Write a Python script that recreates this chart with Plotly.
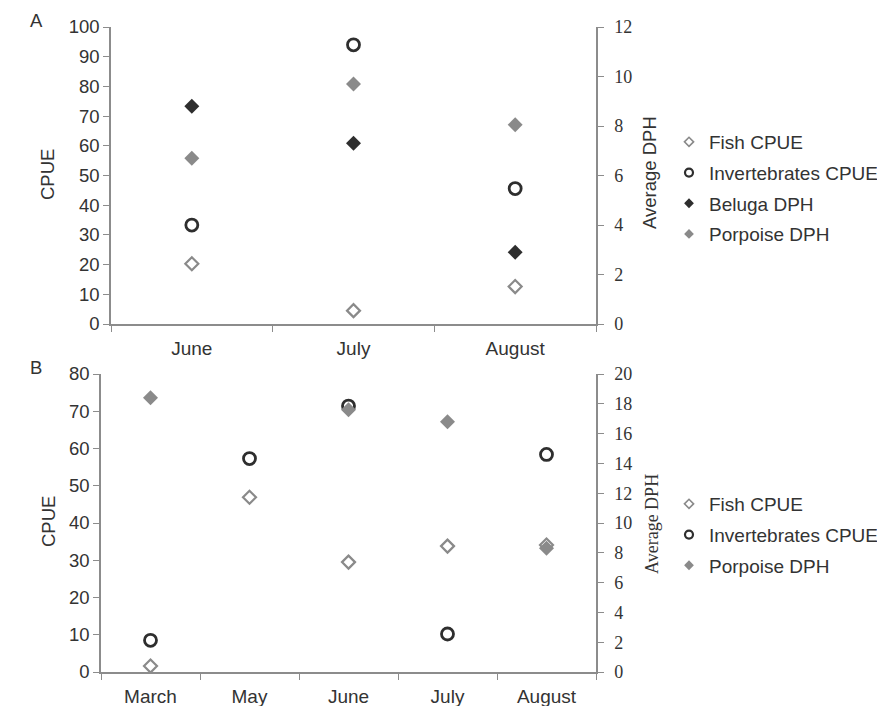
import plotly.graph_objects as go

# Visible window 885x706; page body has an 8px margin, so figure is drawn offset by 8px
OFF = 8
W, H = 885 - OFF, 706 - OFF

# Panel A data
months_a = ["June", "July", "August"]
fish_a = [20.3, 4.5, 12.6]
invert_a = [33.3, 94.0, 45.6]
beluga_a = [8.8, 7.3, 2.9]
porpoise_a = [6.7, 9.7, 8.05]

# Panel B data
months_b = ["March", "May", "June", "July", "August"]
fish_b = [1.6, 46.9, 29.5, 33.8, 34.1]
invert_b = [8.5, 57.3, 71.4, 10.2, 58.4]
porpoise_b = [18.4, None, 17.6, 16.8, 8.3]

cpue_ticks_a = [0, 10, 20, 30, 40, 50, 60, 70, 80, 90, 100]
dph_ticks_a = [0, 2, 4, 6, 8, 10, 12]
cpue_ticks_b = [0, 10, 20, 30, 40, 50, 60, 70, 80]
dph_ticks_b = [0, 2, 4, 6, 8, 10, 12, 14, 16, 18, 20]

SANS = "Liberation Sans, Arial, sans-serif"
SERIF = "Liberation Serif, Times New Roman, serif"
TXT = "#333333"
AX = "#8c8c8c"
GRAY = "#8a8a8a"
DARK = "#2e2e2e"
FS = 18.5
FSL = 19
FSS = 18

def px_x(p):
    return (p - OFF) / W

def px_y(p):
    return 1 - (p - OFF) / H

fig = go.Figure()

def mk(kind, big=True):
    if kind == "fish":
        return dict(symbol="diamond-open", size=10 if big else 7, color=GRAY,
                    line=dict(width=2.2 if big else 1.6, color=GRAY))
    if kind == "inv":
        return dict(symbol="circle-open", size=12 if big else 8, color=DARK,
                    line=dict(width=2.8 if big else 2.2, color=DARK))
    if kind == "bel":
        return dict(symbol="diamond", size=11.5 if big else 7.5, color=DARK, line=dict(width=0))
    return dict(symbol="diamond", size=11.5 if big else 7.5, color=GRAY, line=dict(width=0))

# Panel A data traces
fig.add_trace(go.Scatter(x=months_a, y=fish_a, mode="markers", name="Fish CPUE", showlegend=False,
                         marker=mk("fish"), xaxis="x", yaxis="y"))
fig.add_trace(go.Scatter(x=months_a, y=invert_a, mode="markers", name="Invertebrates CPUE", showlegend=False,
                         marker=mk("inv"), xaxis="x", yaxis="y"))
fig.add_trace(go.Scatter(x=months_a, y=beluga_a, mode="markers", name="Beluga DPH", showlegend=False,
                         marker=mk("bel"), xaxis="x", yaxis="y2"))
fig.add_trace(go.Scatter(x=months_a, y=porpoise_a, mode="markers", name="Porpoise DPH", showlegend=False,
                         marker=mk("por"), xaxis="x", yaxis="y2"))

# Panel B data traces
fig.add_trace(go.Scatter(x=months_b, y=fish_b, mode="markers", name="Fish CPUE", showlegend=False,
                         marker=mk("fish"), xaxis="x2", yaxis="y3"))
fig.add_trace(go.Scatter(x=months_b, y=invert_b, mode="markers", name="Invertebrates CPUE", showlegend=False,
                         marker=mk("inv"), xaxis="x2", yaxis="y3"))
fig.add_trace(go.Scatter(x=months_b, y=porpoise_b, mode="markers", name="Porpoise DPH", showlegend=False,
                         marker=mk("por"), xaxis="x2", yaxis="y4"))

# Legend entries (small symbols like the original)
legend_a = [("Fish CPUE", "fish"), ("Invertebrates CPUE", "inv"), ("Beluga DPH", "bel"), ("Porpoise DPH", "por")]
legend_b = [("Fish CPUE", "fish"), ("Invertebrates CPUE", "inv"), ("Porpoise DPH", "por")]
for i, (nm, k) in enumerate(legend_a):
    fig.add_trace(go.Scatter(x=[None], y=[None], mode="markers", name=nm, marker=mk(k, False),
                             xaxis="x", yaxis="y", legend="legend", legendgroup="a%d" % i))
for i, (nm, k) in enumerate(legend_b):
    fig.add_trace(go.Scatter(x=[None], y=[None], mode="markers", name=nm, marker=mk(k, False),
                             xaxis="x2", yaxis="y3", legend="legend2", legendgroup="b%d" % i))

common_x = dict(type="category", showgrid=False, zeroline=False, showline=True, linecolor=AX,
                linewidth=1.5, ticks="outside", tickson="boundaries", ticklen=6, tickcolor=AX,
                automargin=False, ticklabelstandoff=6,
                tickfont=dict(family=SANS, size=FSL, color=TXT))
common_y = dict(showgrid=False, zeroline=False, showline=True, linecolor=AX, linewidth=1.5,
                ticks="outside", ticklen=6, tickcolor=AX, automargin=False)

legend_common = dict(font=dict(family=SANS, size=FSL, color=TXT), bgcolor="rgba(0,0,0,0)",
                     tracegroupgap=3, xanchor="left", yanchor="top")

fig.update_layout(
    width=W, height=H,
    template="none",
    margin=dict(l=0, r=0, t=0, b=0, pad=0),
    paper_bgcolor="white", plot_bgcolor="white",
    font=dict(family=SANS, color=TXT),
    xaxis=dict(common_x, domain=[px_x(111), px_x(596)], anchor="y", range=[-0.5, 2.5]),
    yaxis=dict(common_y, domain=[px_y(324), px_y(27)], anchor="x", range=[0, 100],
               tickvals=cpue_ticks_a, tickfont=dict(family=SANS, size=FS, color=TXT)),
    yaxis2=dict(common_y, overlaying="y", side="right", anchor="x", range=[0, 12], ticklabelstandoff=7,
                tickvals=dph_ticks_a, tickfont=dict(family=SERIF, size=FSS, color=TXT)),
    xaxis2=dict(common_x, domain=[px_x(101), px_x(596)], anchor="y3", range=[-0.5, 4.5]),
    yaxis3=dict(common_y, domain=[px_y(672), px_y(374)], anchor="x2", range=[0, 80],
                tickvals=cpue_ticks_b, tickfont=dict(family=SANS, size=FS, color=TXT)),
    yaxis4=dict(common_y, overlaying="y3", side="right", anchor="x2", range=[0, 20], ticklabelstandoff=7,
                tickvals=dph_ticks_b, tickfont=dict(family=SERIF, size=FSS, color=TXT)),
    legend=dict(legend_common, x=px_x(669), y=px_y(123)),
    legend2=dict(legend_common, x=px_x(669), y=px_y(485)),
    showlegend=True,
)

ann = [
    dict(text="A", x=px_x(37), y=px_y(21)),
    dict(text="B", x=px_x(36), y=px_y(367)),
    dict(text="CPUE", x=px_x(48), y=px_y(175), textangle=-90),
    dict(text="CPUE", x=px_x(48), y=px_y(522), textangle=-90),
    dict(text="Average DPH", x=px_x(650), y=px_y(173), textangle=-90),
    dict(text="Average DPH", x=px_x(652), y=px_y(524), textangle=-90, font=dict(family=SERIF, size=FSS, color=TXT)),
]
for a in ann:
    a.setdefault("font", dict(family=SANS, size=FS, color=TXT))
    fig.add_annotation(xref="paper", yref="paper", showarrow=False, xanchor="center", yanchor="middle", **a)

fig.write_html("out.html")
